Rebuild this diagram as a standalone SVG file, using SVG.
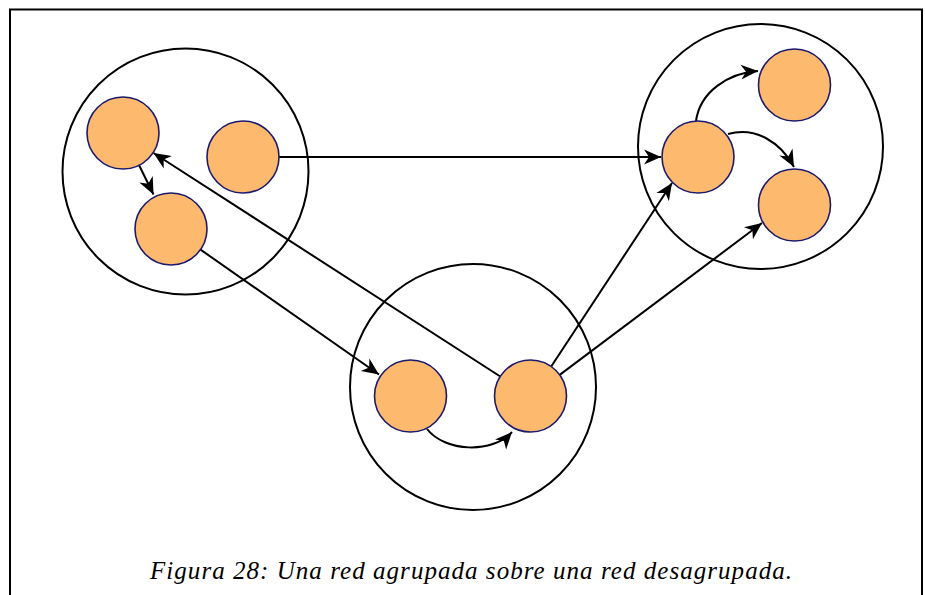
<svg xmlns="http://www.w3.org/2000/svg" width="925" height="595" viewBox="0 0 925 595">
<style>
.grp{fill:none;stroke:#000;stroke-width:2}
.nd{fill:#FDB96E;stroke:#1a1a6e;stroke-width:1.6}
.ed{fill:none;stroke:#000;stroke-width:2;marker-end:url(#ah)}
.cap{font-family:"Liberation Serif","Times New Roman",serif;font-style:italic;font-weight:normal;font-size:25px;fill:#000}
</style>
<defs>
<marker id="ah" markerUnits="userSpaceOnUse" viewBox="-18 -9 19 18" markerWidth="19" markerHeight="18" refX="0" refY="0" orient="auto">
<path d="M0,0 L-17,-7.5 L-12,0 L-17,7.5 z" fill="#000"/>
</marker>
</defs>
<rect x="0" y="0" width="925" height="595" fill="#fff"/>
<path d="M10,595 V9.5 H922 V595" fill="none" stroke="#000" stroke-width="2"/>
<g id="cluster-left"><circle class="grp" cx="185.5" cy="171.5" r="123"/></g>
<g id="cluster-right"><circle class="grp" cx="760.5" cy="146.5" r="122.5"/></g>
<g id="cluster-bottom"><circle class="grp" cx="473" cy="387" r="123"/></g>
<g id="connectors">
<line class="ed" x1="279" y1="157" x2="661" y2="157"/>
<line class="ed" x1="500.3" y1="376.5" x2="153.5" y2="153"/>
<line class="ed" x1="200.5" y1="249.6" x2="379" y2="374.5"/>
<line class="ed" x1="139.1" y1="165.2" x2="153.5" y2="194.5"/>
<line class="ed" x1="551.2" y1="366.5" x2="672" y2="183"/>
<line class="ed" x1="559.7" y1="374.9" x2="762" y2="223"/>
<path class="ed" d="M427,429 C445,452 492,454 512,432"/>
<path class="ed" d="M696,121 C700,92 728,73 758,71"/>
<path class="ed" d="M728,134 C756,126 781,143 794,167"/>
</g>
<g id="n-a"><circle class="nd" cx="123" cy="133" r="36"/></g>
<g id="n-b"><circle class="nd" cx="243" cy="157" r="36"/></g>
<g id="n-c"><circle class="nd" cx="171" cy="229" r="36"/></g>
<g id="n-d"><circle class="nd" cx="698" cy="157" r="36"/></g>
<g id="n-e"><circle class="nd" cx="794.5" cy="85" r="36"/></g>
<g id="n-f"><circle class="nd" cx="794.5" cy="205" r="36"/></g>
<g id="n-g"><circle class="nd" cx="410.5" cy="396" r="36"/></g>
<g id="n-h"><circle class="nd" cx="530.5" cy="396" r="36"/></g>
<text class="cap" x="150" y="579" textLength="642" lengthAdjust="spacing">Figura 28: Una red agrupada sobre una red desagrupada.</text>
</svg>
